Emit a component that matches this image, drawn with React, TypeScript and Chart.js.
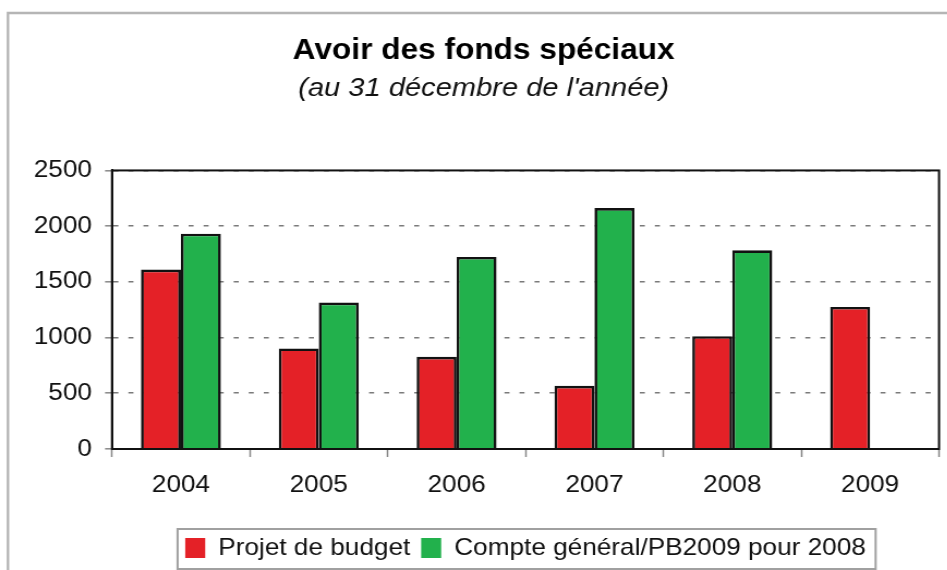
import React, { useEffect, useRef } from "react";
import { Chart, registerables } from "chart.js";

Chart.register(...registerables);

// ---- data ----
const years = ["2004", "2005", "2006", "2007", "2008", "2009"];
const projetBudget = [1610, 902, 827, 567, 1012, 1275];
const compteGeneral = [1932, 1314, 1723, 2162, 1783, null];
const yTickValues = [0, 500, 1000, 1500, 2000, 2500];
const seriesLabels = ["Projet de budget", "Compte général/PB2009 pour 2008"];
const titleText = "Avoir des fonds spéciaux";
const subtitleText = "(au 31 décembre de l'année)";

const STRETCH = 1.09;
const PAGE_W = 947;
const PAGE_H = 570;
const CW = Math.round(PAGE_W / STRETCH);
const FONT = "'Liberation Sans', Arial, Helvetica, sans-serif";
const RED = "#e42127";
const GREEN = "#22b14c";

const decorPlugin = {
  id: "decor",
  beforeDraw(chart: any) {
    const ctx = chart.ctx;
    ctx.save();
    ctx.fillStyle = "#ffffff";
    ctx.fillRect(0, 0, chart.width, chart.height);
    ctx.strokeStyle = "#b5b5b5";
    ctx.lineWidth = 2.3;
    ctx.beginPath();
    ctx.moveTo(7.3, chart.height + 5);
    ctx.lineTo(7.3, 13);
    ctx.lineTo(chart.width + 5, 13);
    ctx.stroke();
    ctx.restore();
  },
  afterDatasetsDraw(chart: any) {
    const { ctx, chartArea } = chart;
    ctx.save();
    ctx.strokeStyle = "#111111";
    ctx.lineWidth = 2;
    ctx.strokeRect(chartArea.left, chartArea.top, chartArea.right - chartArea.left, chartArea.bottom - chartArea.top);
    ctx.restore();
  },
  afterDraw(chart: any) {
    const lg = chart.legend;
    if (!lg || !lg.legendHitBoxes || !lg.legendHitBoxes.length) return;
    const hb = lg.legendHitBoxes;
    let l = Infinity, r = -Infinity, cy = 0;
    hb.forEach((b: any) => {
      l = Math.min(l, b.left);
      r = Math.max(r, b.left + b.width);
      cy = b.top + b.height / 2;
    });
    const ctx = chart.ctx;
    ctx.save();
    ctx.strokeStyle = "#a0a0a0";
    ctx.lineWidth = 2;
    ctx.strokeRect(l - 7, cy - 19, r - l + 16, 40);
    ctx.restore();
  },
};

export default function App() {
  const ref = useRef<HTMLCanvasElement | null>(null);

  useEffect(() => {
    if (!ref.current) return;
    const chart = new Chart(ref.current, {
      type: "bar",
      data: {
        labels: years,
        datasets: [
          {
            label: seriesLabels[0],
            data: projetBudget,
            backgroundColor: RED,
            borderColor: "#111111",
            borderWidth: 2.6,
            categoryPercentage: 0.58,
            barPercentage: 1,
          },
          {
            label: seriesLabels[1],
            data: compteGeneral,
            backgroundColor: GREEN,
            borderColor: "#111111",
            borderWidth: 2.6,
            categoryPercentage: 0.58,
            barPercentage: 1,
          },
        ],
      },
      options: {
        responsive: false,
        animation: false,
        devicePixelRatio: 1,
        layout: { padding: { left: 26, right: 7.5, top: 0, bottom: 0 } },
        plugins: {
          tooltip: { enabled: false },
          title: {
            display: true,
            text: titleText,
            color: "#000",
            font: { family: FONT, size: 29, weight: "bold" },
            padding: { top: 34, bottom: 0 },
          },
          subtitle: {
            display: true,
            text: subtitleText,
            color: "#111",
            font: { family: FONT, size: 26.7, style: "italic" },
            padding: { top: 4, bottom: 65.6 },
          },
          legend: {
            position: "bottom",
            fullSize: false,
            labels: {
              color: "#111",
              font: { family: FONT, size: 24 },
              boxWidth: 18.35,
              boxHeight: 20,
              padding: 10,
              generateLabels: (c: any) =>
                c.data.datasets.map((ds: any, i: number) => ({
                  text: ds.label,
                  fillStyle: ds.backgroundColor,
                  strokeStyle: ds.backgroundColor,
                  lineWidth: 0,
                  hidden: false,
                  datasetIndex: i,
                  fontColor: "#111",
                })),
            },
          },
        },
        scales: {
          x: {
            offset: true,
            afterFit: (s: any) => {
              s.height = 77;
            },
            grid: {
              offset: true,
              drawOnChartArea: false,
              drawTicks: true,
              tickLength: 8,
              tickColor: "#888",
              tickWidth: 1.5,
            },
            border: { display: true, color: "#111", width: 2 },
            ticks: {
              color: "#111",
              font: { family: FONT, size: 24 },
              padding: 14,
              maxRotation: 0,
            },
          },
          y: {
            min: 0,
            max: 2500,
            afterFit: (s: any) => {
              s.width = 76.75;
            },
            afterBuildTicks: (s: any) => {
              s.ticks = yTickValues.map((v) => ({ value: v }));
            },
            grid: {
              color: "#7a7a7a",
              lineWidth: 1.6,
              drawTicks: true,
              tickLength: 6.4,
              tickColor: "#888",
              tickWidth: 1.5,
              tickBorderDash: [],
            },
            border: { display: true, color: "#111", width: 2, dash: [4.6, 9.2] },
            ticks: {
              color: "#111",
              font: { family: FONT, size: 24 },
              padding: 12,
              callback: (v: any) => String(v),
            },
          },
        },
      },
      plugins: [decorPlugin],
    } as any);
    return () => chart.destroy();
  }, []);

  return (
    <div
      style={{
        position: "absolute",
        left: 0,
        top: 0,
        width: PAGE_W,
        height: PAGE_H,
        overflow: "hidden",
        background: "#fff",
      }}
    >
      <div style={{ transform: `scaleX(${STRETCH})`, transformOrigin: "0 0", width: CW, height: PAGE_H }}>
        <canvas ref={ref} width={CW} height={PAGE_H} style={{ width: CW, height: PAGE_H, display: "block" }} />
      </div>
    </div>
  );
}
